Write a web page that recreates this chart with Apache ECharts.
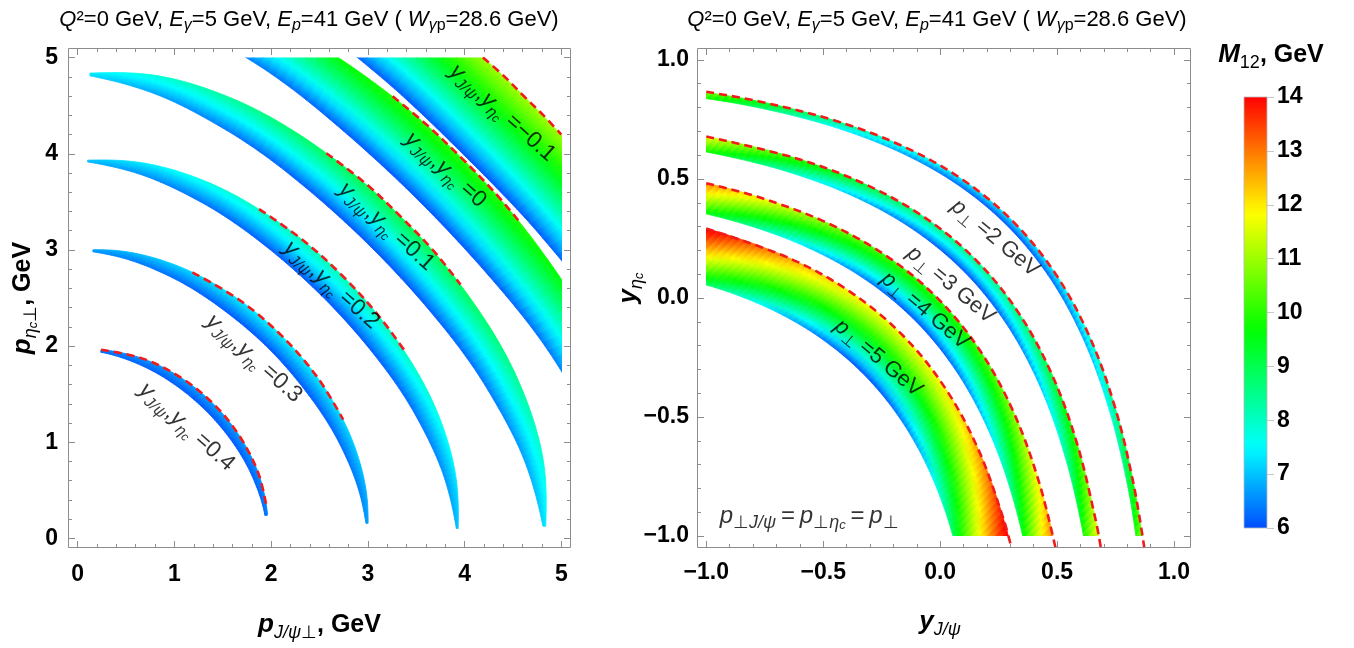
<!DOCTYPE html>
<html>
<head>
<meta charset="utf-8">
<title>J/psi + eta_c kinematic bands</title>
<script src="https://cdn.jsdelivr.net/npm/echarts@6.0.0/dist/echarts.min.js"></script>
<style>
html,body{margin:0;padding:0;background:#ffffff;}
#chart{width:1354px;height:648px;}
</style>
</head>
<body>
<div id="chart"></div>
<script>
// ================= DATA =================
// Left panel: bands for y_J/psi = y_eta_c ; samples along each band by polar angle (deg) from origin
const leftRapidity = ['0.4', '0.3', '0.2', '0.1', '0', '\u22120.1'];

const y04Theta = [7, 10, 20, 33, 45, 57, 70, 80, 83];
const y04ROut = [1.977, 1.981, 1.987, 1.983, 1.981, 1.983, 1.987, 1.981, 1.977];
const y04RIn  = [1.950, 1.943, 1.915, 1.886, 1.876, 1.886, 1.915, 1.943, 1.950];
const y04MOut = [6.43, 6.47, 6.57, 6.66, 6.70, 6.66, 6.57, 6.47, 6.43];
const y04MIn  = [6.28, 6.25, 6.17, 6.10, 6.08, 6.10, 6.17, 6.25, 6.28];

const y03Theta = [3, 10, 20, 33, 45, 57, 70, 80, 87];
const y03ROut = [3.007, 3.024, 3.017, 2.992, 2.981, 2.992, 3.017, 3.024, 3.007];
const y03RIn  = [2.984, 2.947, 2.881, 2.811, 2.792, 2.811, 2.881, 2.947, 2.984];
const y03MOut = [6.73, 6.90, 7.13, 7.33, 7.40, 7.33, 7.13, 6.90, 6.73];
const y03MIn  = [6.58, 6.42, 6.25, 6.11, 6.08, 6.11, 6.25, 6.42, 6.58];

const y02Theta = [1.5, 10, 20, 33, 45, 57, 70, 80, 88.5];
const y02ROut = [3.935, 3.963, 3.941, 3.887, 3.866, 3.887, 3.941, 3.963, 3.935];
const y02RIn  = [3.916, 3.837, 3.722, 3.605, 3.567, 3.605, 3.722, 3.837, 3.916];
const y02MOut = [7.01, 7.37, 7.75, 8.07, 8.18, 8.07, 7.75, 7.37, 7.01];
const y02MIn  = [6.89, 6.58, 6.32, 6.13, 6.08, 6.13, 6.32, 6.58, 6.89];

const y01Theta = [1.5, 10, 20, 33, 45, 57, 70, 80, 88.5];
const y01ROut = [4.841, 4.882, 4.842, 4.759, 4.727, 4.759, 4.842, 4.882, 4.841];
const y01RIn  = [4.812, 4.688, 4.513, 4.342, 4.287, 4.342, 4.513, 4.688, 4.812];
const y01MOut = [7.35, 7.88, 8.43, 8.89, 9.04, 8.89, 8.43, 7.88, 7.35];
const y01MIn  = [7.18, 6.73, 6.38, 6.14, 6.08, 6.14, 6.38, 6.73, 7.18];

const y00Theta = [10, 20, 33, 45, 57, 70, 80];
const y00ROut = [5.80, 5.753, 5.644, 5.603, 5.644, 5.753, 5.80];
const y00RIn  = [5.50, 5.278, 5.049, 4.977, 5.049, 5.278, 5.50];
const y00MOut = [8.60, 9.18, 9.80, 9.99, 9.80, 9.18, 8.60];
const y00MIn  = [6.80, 6.43, 6.15, 6.08, 6.15, 6.43, 6.80];

const ym01Theta = [20, 33, 45, 57, 70];
const ym01ROut = [6.65, 6.562, 6.514, 6.562, 6.65];
const ym01RIn  = [5.96, 5.733, 5.643, 5.733, 5.96];
const ym01MOut = [10.20, 10.80, 11.04, 10.80, 10.20];
const ym01MIn  = [6.45, 6.15, 6.08, 6.15, 6.45];

// red dashed segments on the outer edges (p_J/psi, p_eta_c)
const dashY04 = [[0.241,1.962],[0.680,1.867],[1.080,1.663],[1.401,1.401],[1.663,1.080],[1.867,0.680],[1.956,0.310]];
const dashY03 = [[1.186,2.767],[1.672,2.479],[2.108,2.108],[2.480,1.673],[2.745,1.234]];
const dashY02 = [[1.875,3.425],[2.334,3.097],[2.734,2.734],[3.097,2.334],[3.384,1.946]];
const dashY01 = [[2.571,4.006],[2.984,3.685],[3.343,3.343],[3.685,2.984],[3.958,2.639]];
const dashY00 = [[3.256,4.598],[3.609,4.301],[3.962,3.962],[4.301,3.609],[4.555,3.309]];
const dashYm01 = [[4.19,5.0],[4.406,4.809],[4.606,4.606],[4.809,4.406],[5.0,4.20]];

// label anchor points (left panel)
const leftLabelPos = [[1.128,1.159],[1.823,1.872],[2.622,2.635],[3.194,3.243],[3.802,3.833],[4.392,4.424]];

// Right panel: bands for p_perp = 2,3,4,5 GeV in (y_J/psi, y_eta_c)
const rightPt = ['2', '3', '4', '5'];
const pt2OutX = [-1.1174,-0.7743,-0.4537,-0.1615,0.0966,0.3164,0.4966,0.6385,0.7463,0.8257,0.8826];
const pt2OutY = [0.8826,0.8257,0.7463,0.6385,0.4966,0.3164,0.0966,-0.1615,-0.4537,-0.7743,-1.1174];
const pt2InX  = [-1.1409,-0.7967,-0.4755,-0.1829,0.0754,0.2953,0.4754,0.6171,0.7245,0.8033,0.8591];
const pt2InY  = [0.8591,0.8033,0.7245,0.6171,0.4754,0.2953,0.0754,-0.1829,-0.4755,-0.7967,-1.1409];
const pt2MOut = [11.23,9.73,8.63,7.87,7.42,7.28,7.42,7.87,8.63,9.73,11.23];
const pt2MIn  = [10.49,8.87,7.64,6.78,6.25,6.08,6.25,6.78,7.64,8.87,10.49];

const pt3OutX = [-1.2775,-0.9345,-0.6138,-0.3217,-0.0636,0.1563,0.3364,0.4783,0.5862,0.6655,0.7225];
const pt3OutY = [0.7225,0.6655,0.5862,0.4783,0.3364,0.1563,-0.0636,-0.3217,-0.6138,-0.9345,-1.2775];
const pt3InX  = [-1.3360,-0.9888,-0.6658,-0.3723,-0.1135,0.1066,0.2865,0.4277,0.5342,0.6112,0.6640];
const pt3InY  = [0.6640,0.6112,0.5342,0.4277,0.2865,0.1066,-0.1135,-0.3723,-0.6658,-0.9888,-1.3360];
const pt3MOut = [13.18,11.43,10.13,9.23,8.71,8.54,8.71,9.23,10.13,11.43,13.18];
const pt3MIn  = [11.74,9.72,8.16,7.02,6.32,6.08,6.32,7.02,8.16,9.72,11.74];

const pt4OutX = [-1.4402,-1.0968,-0.7762,-0.4840,-0.2260,-0.0061,0.1740,0.3160,0.4238,0.5032,0.5598];
const pt4OutY = [0.5598,0.5032,0.4238,0.3160,0.1740,-0.0061,-0.2260,-0.4840,-0.7762,-1.0968,-1.4402];
const pt4InX  = [-1.5648,-1.2063,-0.8780,-0.5816,-0.3214,-0.1009,0.0786,0.2184,0.3220,0.3937,0.4352];
const pt4InY  = [0.4352,0.3937,0.3220,0.2184,0.0786,-0.1009,-0.3214,-0.5816,-0.8780,-1.2063,-1.5648];
const pt4MOut = [15.51,13.44,11.91,10.86,10.25,10.05,10.25,10.86,11.91,13.44,15.51];
const pt4MIn  = [13.28,10.80,8.83,7.35,6.41,6.08,6.41,7.35,8.83,10.80,13.28];

const pt5OutX = [-1.5929,-1.2496,-0.9288,-0.6365,-0.3784,-0.1585,0.0216,0.1635,0.2712,0.3504,0.4071];
const pt5OutY = [0.4071,0.3504,0.2712,0.1635,0.0216,-0.1585,-0.3784,-0.6365,-0.9288,-1.2496,-1.5929];
const pt5InX  = [-1.9017,-1.4658,-1.1161,-0.8100,-0.5454,-0.3237,-0.1454,-0.0100,0.0839,0.1342,0.0983];
const pt5InY  = [0.0983,0.1342,0.0839,-0.0100,-0.1454,-0.3237,-0.5454,-0.8100,-1.1161,-1.4658,-1.9017];
const pt5MOut = [18.06,15.65,13.87,12.65,11.94,11.70,11.94,12.65,13.87,15.65,18.06];
const pt5MIn  = [15.04,12.04,9.62,7.75,6.52,6.08,6.52,7.75,9.62,12.04,15.04];

// red dashed outer limits (y_J/psi, y_eta_c)
const dashPt2 = [[-1,0.866],[-0.7743,0.8257],[-0.4537,0.7463],[-0.1615,0.6385],[0.0966,0.4966],[0.3164,0.3164],[0.4966,0.0966],[0.6385,-0.1615],[0.7463,-0.4537],[0.8257,-0.7743],[0.8732,-1.05]];
const dashPt3 = [[-1,0.678],[-0.6138,0.5862],[-0.3217,0.4783],[-0.0636,0.3364],[0.1563,0.1563],[0.3364,-0.0636],[0.4783,-0.3217],[0.5862,-0.6138],[0.6655,-0.9345],[0.6873,-1.05]];
const dashPt4 = [[-1,0.482],[-0.7762,0.4238],[-0.484,0.316],[-0.226,0.174],[-0.0061,-0.0061],[0.174,-0.226],[0.316,-0.484],[0.4238,-0.7762],[0.4935,-1.05]];
const dashPt5 = [[-1,0.292],[-0.6365,0.1635],[-0.3784,0.0216],[-0.1585,-0.1585],[0.0216,-0.3784],[0.1635,-0.6365],[0.2712,-0.9288],[0.3052,-1.05]];

const rightLabelPos = [[0.235,0.251],[0.046,0.055],[-0.064,-0.053],[-0.264,-0.253]];
const rightNotePos = [[-0.56,-0.916]];

// colour bar
const cbMin = 6, cbMax = 14;

// ================= helpers =================
const FONT = "'Liberation Sans', Arial, Helvetica, sans-serif";
const TICK = '#8c8c8c';

function hsv(h) {
  const x = 1 - Math.abs((h / 60) % 2 - 1);
  let r, g, b;
  if (h < 60) { r = 1; g = x; b = 0; }
  else if (h < 120) { r = x; g = 1; b = 0; }
  else if (h < 180) { r = 0; g = 1; b = x; }
  else { r = 0; g = x; b = 1; }
  return 'rgb(' + Math.round(r * 255) + ',' + Math.round(g * 255) + ',' + Math.round(b * 255) + ')';
}
function colorOf(m) {
  let t = (m - cbMin) / (cbMax - cbMin);
  t = Math.max(0, Math.min(1, t));
  return hsv(222 * (1 - t));
}
function cr(arr, i, t) {
  const n = arr.length, p1 = arr[i], p2 = arr[i + 1];
  const p0 = i > 0 ? arr[i - 1] : 2 * p1 - p2;
  const p3 = i + 2 < n ? arr[i + 2] : 2 * p2 - p1;
  const t2 = t * t, t3 = t2 * t;
  return 0.5 * (2 * p1 + (-p0 + p2) * t + (2 * p0 - 5 * p1 + 4 * p2 - p3) * t2 + (-p0 + 3 * p1 - 3 * p2 + p3) * t3);
}
function densify(arrs, N) {
  const keys = Object.keys(arrs), n = arrs[keys[0]].length, out = {};
  keys.forEach(k => out[k] = []);
  for (let i = 0; i < n - 1; i++)
    for (let k = 0; k < N; k++) keys.forEach(key => out[key].push(cr(arrs[key], i, k / N)));
  keys.forEach(key => out[key].push(arrs[key][n - 1]));
  return out;
}
function bandGroup(api, outer, inner, mo, mi) {
  const O = outer.map(p => api.coord(p)), I = inner.map(p => api.coord(p));
  const children = [];
  for (let j = 0; j < O.length - 1; j++) {
    const a = O[j], b = O[j + 1], c = I[j + 1], d = I[j];
    const gx1 = (c[0] + d[0]) / 2, gy1 = (c[1] + d[1]) / 2;
    const gx2 = (a[0] + b[0]) / 2, gy2 = (a[1] + b[1]) / 2;
    const m1 = (mi[j] + mi[j + 1]) / 2, m2 = (mo[j] + mo[j + 1]) / 2;
    let fill;
    if (Math.hypot(gx2 - gx1, gy2 - gy1) < 0.6) {
      fill = colorOf((m1 + m2) / 2);
    } else {
      const stops = [];
      for (let k = 0; k <= 8; k++) {
        const t = k / 8;
        stops.push({ offset: t, color: colorOf(Math.sqrt(m1 * m1 + t * (m2 * m2 - m1 * m1))) });
      }
      fill = new echarts.graphic.LinearGradient(gx1, gy1, gx2, gy2, stops, true);
    }
    children.push({ type: 'polygon', shape: { points: [a, b, c, d] }, style: { fill: fill, stroke: fill, lineWidth: 0.8 } });
  }
  return { type: 'group', children: children };
}

const leftBands = [
  { theta: y04Theta, rOut: y04ROut, rIn: y04RIn, mOut: y04MOut, mIn: y04MIn },
  { theta: y03Theta, rOut: y03ROut, rIn: y03RIn, mOut: y03MOut, mIn: y03MIn },
  { theta: y02Theta, rOut: y02ROut, rIn: y02RIn, mOut: y02MOut, mIn: y02MIn },
  { theta: y01Theta, rOut: y01ROut, rIn: y01RIn, mOut: y01MOut, mIn: y01MIn },
  { theta: y00Theta, rOut: y00ROut, rIn: y00RIn, mOut: y00MOut, mIn: y00MIn },
  { theta: ym01Theta, rOut: ym01ROut, rIn: ym01RIn, mOut: ym01MOut, mIn: ym01MIn }
];
const rightBands = [
  { ox: pt2OutX, oy: pt2OutY, ix: pt2InX, iy: pt2InY, mo: pt2MOut, mi: pt2MIn },
  { ox: pt3OutX, oy: pt3OutY, ix: pt3InX, iy: pt3InY, mo: pt3MOut, mi: pt3MIn },
  { ox: pt4OutX, oy: pt4OutY, ix: pt4InX, iy: pt4InY, mo: pt4MOut, mi: pt4MIn },
  { ox: pt5OutX, oy: pt5OutY, ix: pt5InX, iy: pt5InY, mo: pt5MOut, mi: pt5MIn }
];
const leftDashes = [dashY04, dashY03, dashY02, dashY01, dashY00, dashYm01];
const rightDashes = [dashPt2, dashPt3, dashPt4, dashPt5];

function renderLeftBand(params, api) {
  const b = leftBands[params.dataIndex];
  const d = densify({ th: b.theta, ro: b.rOut, ri: b.rIn, mo: b.mOut, mi: b.mIn }, 12);
  const outer = [], inner = [];
  for (let k = 0; k < d.th.length; k++) {
    const a = d.th[k] * Math.PI / 180;
    outer.push([d.ro[k] * Math.cos(a), d.ro[k] * Math.sin(a)]);
    inner.push([d.ri[k] * Math.cos(a), d.ri[k] * Math.sin(a)]);
  }
  return bandGroup(api, outer, inner, d.mo, d.mi);
}
function renderRightBand(params, api) {
  const b = rightBands[params.dataIndex];
  const d = densify({ ox: b.ox, oy: b.oy, ix: b.ix, iy: b.iy, mo: b.mo, mi: b.mi }, 12);
  const outer = d.ox.map((x, k) => [x, d.oy[k]]);
  const inner = d.ix.map((x, k) => [x, d.iy[k]]);
  return bandGroup(api, outer, inner, d.mo, d.mi);
}
function renderColorbar(params, api) {
  const p0 = api.coord([0, cbMax]), p1 = api.coord([1, cbMin]);
  const stops = [];
  for (let k = 0; k <= 40; k++) {
    const t = k / 40;
    stops.push({ offset: t, color: colorOf(cbMax - t * (cbMax - cbMin)) });
  }
  return {
    type: 'rect',
    shape: { x: p0[0], y: p0[1], width: p1[0] - p0[0], height: p1[1] - p0[1] },
    style: { fill: new echarts.graphic.LinearGradient(0, 0, 0, 1, stops), stroke: '#b8b8b8', lineWidth: 0.8 }
  };
}

// ================= text styles =================
const labelRich = {
  y: { fontFamily: FONT, fontStyle: 'italic', fontSize: 23, lineHeight: 30, color: '#000' },
  n: { fontFamily: FONT, fontSize: 23, lineHeight: 30, color: '#000' },
  s: { fontFamily: FONT, fontStyle: 'italic', fontSize: 16, lineHeight: 13, verticalAlign: 'bottom', color: '#000' },
  su: { fontFamily: FONT, fontSize: 16, lineHeight: 13, verticalAlign: 'bottom', color: '#000' },
  ss: { fontFamily: FONT, fontStyle: 'italic', fontSize: 12, lineHeight: 7, verticalAlign: 'bottom', color: '#000' }
};
const rLabelRich = {
  y: { fontFamily: FONT, fontStyle: 'italic', fontSize: 22, lineHeight: 29, color: '#000' },
  n: { fontFamily: FONT, fontSize: 22, lineHeight: 29, color: '#000' },
  su: { fontFamily: FONT, fontSize: 16, lineHeight: 13, verticalAlign: 'bottom', color: '#000' }
};
const noteRich = {
  y: { fontFamily: FONT, fontStyle: 'italic', fontSize: 24, lineHeight: 31, color: '#000' },
  n: { fontFamily: FONT, fontSize: 24, lineHeight: 31, color: '#000' },
  s: { fontFamily: FONT, fontStyle: 'italic', fontSize: 18, lineHeight: 14, verticalAlign: 'bottom', color: '#000' },
  su: { fontFamily: FONT, fontSize: 18, lineHeight: 14, verticalAlign: 'bottom', color: '#000' },
  ss: { fontFamily: FONT, fontStyle: 'italic', fontSize: 13, lineHeight: 7, verticalAlign: 'bottom', color: '#000' }
};
const nameRich = {
  p: { fontFamily: FONT, fontStyle: 'italic', fontWeight: 'bold', fontSize: 26, lineHeight: 34, color: '#000' },
  b: { fontFamily: FONT, fontWeight: 'bold', fontSize: 25, lineHeight: 34, color: '#000' },
  s: { fontFamily: FONT, fontStyle: 'italic', fontSize: 18, lineHeight: 15, verticalAlign: 'bottom', color: '#000' },
  su: { fontFamily: FONT, fontSize: 18, lineHeight: 15, verticalAlign: 'bottom', color: '#000' },
  ss: { fontFamily: FONT, fontStyle: 'italic', fontSize: 13, lineHeight: 8, verticalAlign: 'bottom', color: '#000' }
};
const titleRich = {
  i: { fontFamily: FONT, fontStyle: 'italic', fontSize: 22, lineHeight: 29, color: '#000' },
  n: { fontFamily: FONT, fontSize: 22, lineHeight: 29, color: '#000' },
  si: { fontFamily: FONT, fontStyle: 'italic', fontSize: 16, lineHeight: 11, verticalAlign: 'bottom', color: '#000' },
  s: { fontFamily: FONT, fontSize: 16, lineHeight: 11, verticalAlign: 'bottom', color: '#000' }
};
const titleText = '{i|Q}{n|\u00b2=0 GeV, }{i|E}{si|\u03b3}{n|=5 GeV, }{i|E}{si|p}{n|=41 GeV ( }{i|W}{si|\u03b3}{s|p}{n|=28.6 GeV)}';

const tickLabel = { fontFamily: FONT, fontWeight: 'bold', fontSize: 23, color: '#000' };
function frameAxis(base) {
  return Object.assign({
    type: 'value',
    axisLine: { show: false, onZero: false },
    axisTick: { show: true, inside: true, length: 7, lineStyle: { color: TICK, width: 1 } },
    minorTick: { show: true, splitNumber: 5, length: 4, lineStyle: { color: TICK, width: 1 } },
    splitLine: { show: false },
    minorSplitLine: { show: false }
  }, base);
}
function rightFmt(v) { return (v < 0 ? '\u2212' : '') + Math.abs(v).toFixed(1); }

// ================= chart =================
const chart = echarts.init(document.getElementById('chart'), null, { renderer: 'canvas', width: 1354, height: 648 });

const series = [];
series.push({
  type: 'custom', xAxisIndex: 0, yAxisIndex: 0, clip: true, silent: true, z: 2,
  renderItem: renderLeftBand,
  data: leftBands.map((b, i) => [i * 0.5, 1])
});
leftDashes.forEach(d => series.push({
  type: 'line', xAxisIndex: 0, yAxisIndex: 0, data: d, smooth: 0.35, symbol: 'none', silent: true, z: 5,
  lineStyle: { color: '#f21b1b', width: 2.6, type: [8, 5] }
}));
series.push({
  type: 'scatter', xAxisIndex: 0, yAxisIndex: 0, symbolSize: 0, silent: true, z: 8,
  data: leftLabelPos.map((p, i) => ({ value: p, name: leftRapidity[i] })),
  label: {
    show: true, position: 'inside', rotate: -42, color: '#000',
    formatter: p => '{y|y}{s|J/\u03c8}{n|,}{y|y}{s|\u03b7}{ss|c}{n| =' + p.name + '}',
    rich: labelRich
  }
});
series.push({
  type: 'custom', xAxisIndex: 2, yAxisIndex: 2, clip: true, silent: true, z: 2,
  renderItem: renderRightBand,
  data: rightBands.map((b, i) => [0, 0])
});
rightDashes.forEach(d => series.push({
  type: 'line', xAxisIndex: 2, yAxisIndex: 2, data: d, smooth: 0.35, symbol: 'none', silent: true, z: 5, clip: false,
  lineStyle: { color: '#f21b1b', width: 2.6, type: [8, 5] }
}));
series.push({
  type: 'scatter', xAxisIndex: 2, yAxisIndex: 2, symbolSize: 0, silent: true, z: 8,
  data: rightLabelPos.map((p, i) => ({ value: p, name: rightPt[i] })),
  label: {
    show: true, position: 'inside', rotate: -40, color: '#000',
    formatter: p => '{y|p}{su|\u22a5}{n| =' + p.name + ' GeV}',
    rich: rLabelRich
  }
});
series.push({
  type: 'scatter', xAxisIndex: 2, yAxisIndex: 2, symbolSize: 0, silent: true, z: 8,
  data: rightNotePos.map(p => ({ value: p })),
  label: {
    show: true, position: 'inside', color: '#000',
    formatter: () => '{y|p}{su|\u22a5}{s|J/\u03c8}{n|\u2009=\u2009}{y|p}{su|\u22a5}{s|\u03b7}{ss|c}{n|\u2009=\u2009}{y|p}{su|\u22a5}',
    rich: noteRich
  }
});
series.push({
  type: 'custom', xAxisIndex: 4, yAxisIndex: 4, silent: true, z: 2,
  renderItem: renderColorbar,
  data: [[0, cbMin]]
});

const option = {
  animation: false,
  backgroundColor: '#ffffff',
  textStyle: { fontFamily: FONT },
  grid: [
    { left: 77.7, top: 57.6, width: 483.6, height: 480.8 },
    { left: 706.3, top: 59.9, width: 467.7, height: 476.2 },
    { left: 1244, top: 97, width: 23, height: 431 }
  ],
  xAxis: [
    frameAxis({ gridIndex: 0, position: 'bottom', offset: 9.6, min: 0, max: 5, interval: 1,
      axisLabel: Object.assign({ margin: 15 }, tickLabel),
      name: '{p|p}{s|J/\u03c8}{su|\u22a5}{b|, GeV}', nameLocation: 'middle', nameGap: 60,
      nameTextStyle: { rich: nameRich } }),
    frameAxis({ gridIndex: 0, position: 'top', offset: 9.6, min: 0, max: 5, interval: 1, axisLabel: { show: false } }),
    frameAxis({ gridIndex: 1, position: 'bottom', offset: 11.9, min: -1, max: 1, interval: 0.5,
      axisLabel: Object.assign({ margin: 13, formatter: rightFmt }, tickLabel),
      name: '{p|y}{s|J/\u03c8}', nameLocation: 'middle', nameGap: 57,
      nameTextStyle: { rich: nameRich } }),
    frameAxis({ gridIndex: 1, position: 'top', offset: 11.9, min: -1, max: 1, interval: 0.5, axisLabel: { show: false } }),
    { type: 'value', gridIndex: 2, min: 0, max: 1, show: false }
  ],
  yAxis: [
    frameAxis({ gridIndex: 0, position: 'left', offset: 9.7, min: 0, max: 5, interval: 1,
      axisLabel: Object.assign({ margin: 10 }, tickLabel),
      name: '{p|p}{s|\u03b7}{ss|c}{su|\u22a5}{b|, GeV}', nameLocation: 'middle', nameGap: 28, nameRotate: 90,
      nameTextStyle: { rich: nameRich } }),
    frameAxis({ gridIndex: 0, position: 'right', offset: 9.7, min: 0, max: 5, interval: 1, axisLabel: { show: false } }),
    frameAxis({ gridIndex: 1, position: 'left', offset: 9.3, min: -1, max: 1, interval: 0.5,
      axisLabel: Object.assign({ margin: 8, formatter: rightFmt }, tickLabel) }),
    frameAxis({ gridIndex: 1, position: 'right', offset: 17, min: -1, max: 1, interval: 0.5, axisLabel: { show: false } }),
    { type: 'value', gridIndex: 2, position: 'right', min: cbMin, max: cbMax, interval: 1,
      axisLine: { show: false, onZero: false },
      axisTick: { show: true, inside: false, length: 7, lineStyle: { color: '#c8c8c8', width: 1 } },
      splitLine: { show: false },
      axisLabel: Object.assign({ margin: 10 }, tickLabel) }
  ],
  graphic: [
    { type: 'rect', silent: true, z: 100, shape: { x: 68.5, y: 48.5, width: 502, height: 499 },
      style: { fill: 'none', stroke: TICK, lineWidth: 1 } },
    { type: 'rect', silent: true, z: 100, shape: { x: 697.5, y: 48.5, width: 493, height: 499 },
      style: { fill: 'none', stroke: TICK, lineWidth: 1 } },
    { type: 'text', silent: true, z: 100, x: 309, y: 5,
      style: { text: titleText, rich: titleRich, align: 'center', textAlign: 'center', verticalAlign: 'top', textVerticalAlign: 'top' } },
    { type: 'text', silent: true, z: 100, x: 937, y: 5,
      style: { text: titleText, rich: titleRich, align: 'center', textAlign: 'center', verticalAlign: 'top', textVerticalAlign: 'top' } },
    { type: 'text', silent: true, z: 100, x: 1271, y: 38,
      style: { text: '{p|M}{su|12}{b|, GeV}', rich: nameRich, align: 'center', textAlign: 'center', verticalAlign: 'top', textVerticalAlign: 'top' } },
    { type: 'text', silent: true, z: 100, x: 629, y: 288, rotation: Math.PI / 2,
      style: { text: '{p|y}{s|\u03b7}{ss|c}', rich: nameRich, align: 'center', textAlign: 'center', verticalAlign: 'middle', textVerticalAlign: 'middle' } }
  ],
  series: series
};
chart.setOption(option);
</script>
</body>
</html>
